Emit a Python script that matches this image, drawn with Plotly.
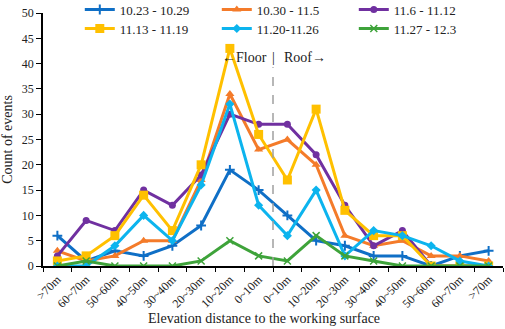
import plotly.graph_objects as go

categories = [">70m", "60~70m", "50~60m", "40~50m", "30~40m", "20~30m", "10~20m", "0~10m",
              "0~10m ", "10~20m ", "20~30m ", "30~40m ", "40~50m ", "50~60m ", "60~70m ", ">70m "]
tick_text = [c.strip() for c in categories]

s1_name = "10.23 - 10.29"
s1 = [6, 1, 3, 2, 4, 8, 19, 15, 10, 5, 4, 2, 2, 0, 2, 3]
s2_name = "10.30 - 11.5"
s2 = [3, 1, 2, 5, 5, 17, 34, 23, 25, 20, 6, 4, 5, 2, 2, 1]
s3_name = "11.6 - 11.12"
s3 = [2, 9, 7, 15, 12, 18, 30, 28, 28, 22, 12, 4, 7, 0, 0, 0]
s4_name = "11.13 - 11.19"
s4 = [1, 2, 6, 14, 7, 20, 43, 26, 17, 31, 11, 6, 6, 0, 0, 0]
s5_name = "11.20-11.26"
s5 = [0, 0, 4, 10, 5, 16, 32, 12, 6, 15, 2, 7, 6, 4, 1, 0]
s6_name = "11.27 - 12.3"
s6 = [0, 1, 0, 0, 0, 1, 5, 2, 1, 6, 2, 1, 0, 0, 0, 0]

FONT = "Liberation Serif, Times New Roman, serif"

series = [
    (s1_name, s1, "#0F6FC6", dict(symbol="cross-thin", size=7, line=dict(width=2, color="#0F6FC6")), "legend"),
    (s2_name, s2, "#F47B2A", dict(symbol="triangle-up", size=8), "legend"),
    (s3_name, s3, "#7030A0", dict(symbol="circle", size=7), "legend"),
    (s4_name, s4, "#FFC000", dict(symbol="square", size=9), "legend2"),
    (s5_name, s5, "#0CB4EE", dict(symbol="diamond", size=7), "legend2"),
    (s6_name, s6, "#3EA33A", dict(symbol="x-thin", size=7, line=dict(width=1.5, color="#3EA33A")), "legend2"),
]

fig = go.Figure()
for name, vals, color, marker, lg in series:
    m = dict(color=color)
    m.update(marker)
    fig.add_trace(go.Scatter(x=categories, y=vals, name=name, mode="lines+markers",
                             line=dict(color=color, width=3), marker=m, legend=lg))

fig.add_shape(type="line", xref="x", yref="y", x0=7.5, x1=7.5, y0=0, y1=39.3,
              line=dict(color="#A0A0A0", width=1.5, dash="dash"))
afont = dict(family=FONT, size=14, color="#222")
fig.add_annotation(x=7.5, y=41.2, xref="x", yref="y", text="←Floor", showarrow=False,
                   font=afont, xanchor="right", xshift=-4)
fig.add_annotation(x=7.5, y=41.2, xref="x", yref="y", text="|", showarrow=False,
                   font=afont, xanchor="center")
fig.add_annotation(x=7.5, y=41.2, xref="x", yref="y", text="Roof→", showarrow=False,
                   font=afont, xanchor="left", xshift=9)
fig.add_annotation(x=0.48, y=0, xref="paper", yref="paper", yshift=-52,
                   text="Elevation distance to the working surface", showarrow=False,
                   font=dict(family=FONT, size=14, color="#222"), xanchor="center", yanchor="middle")

legend_common = dict(orientation="h", x=0.08, xanchor="left", yanchor="top",
                     entrywidth=92, font=dict(family=FONT, size=13, color="#222"),
                     bgcolor="rgba(0,0,0,0)", itemwidth=30)

fig.update_layout(
    width=505, height=329,
    margin=dict(l=43, r=2, t=13, b=63, autoexpand=False),
    paper_bgcolor="white", plot_bgcolor="white",
    font=dict(family=FONT, size=12, color="#222"),
    showlegend=True,
    legend=dict(legend_common, y=1.073),
    legend2=dict(legend_common, y=0.998),
    xaxis=dict(type="category", tickmode="array", tickvals=categories, ticktext=tick_text,
               tickangle=-45, showline=True, linecolor="black", linewidth=1.5,
               ticks="outside", tickson="boundaries", ticklen=4, tickcolor="black",
               showgrid=False, zeroline=False, range=[-0.5, 15.5], automargin=False,
               tickfont=dict(family=FONT, size=12)),
    yaxis=dict(range=[0, 50], dtick=5, showline=True, linecolor="black", linewidth=1.5,
               ticks="outside", ticklen=5, tickcolor="black", showgrid=False, zeroline=False,
               tickfont=dict(family=FONT, size=12), automargin=False,
               title=dict(text="Count of events", standoff=6, font=dict(family=FONT, size=14))),
)

fig.write_html("out.html", config={"displayModeBar": False},
               post_script="document.body.style.margin='0px';")
